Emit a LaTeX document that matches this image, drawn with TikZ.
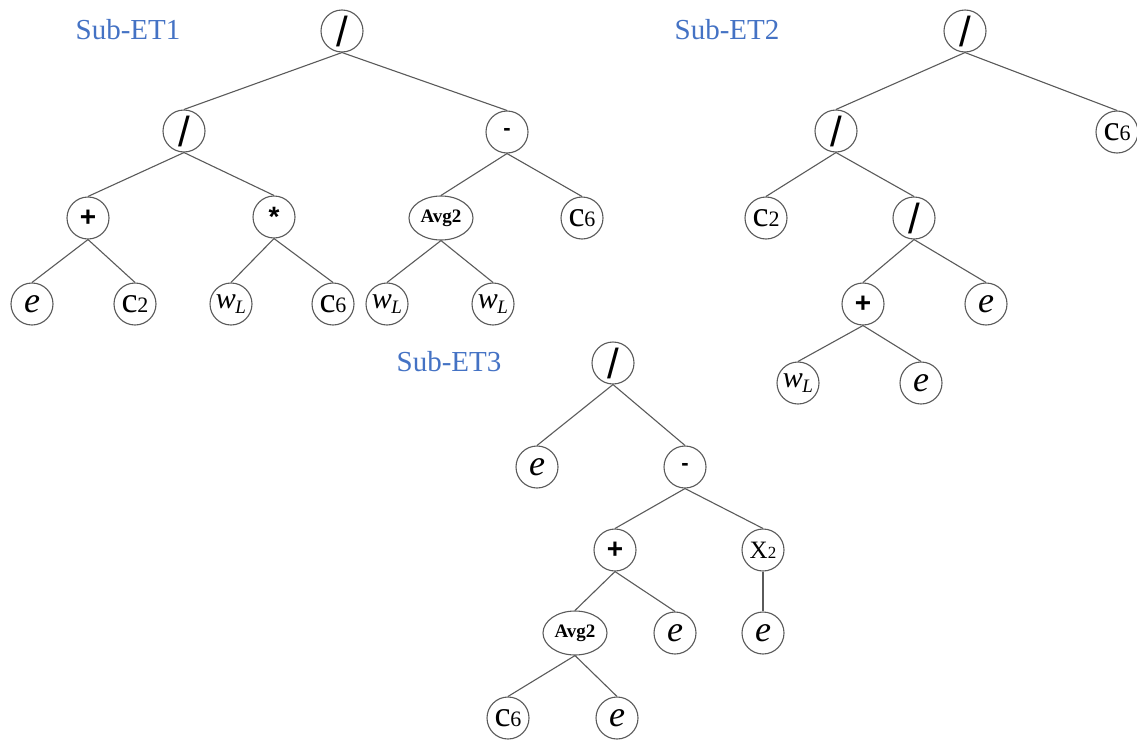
\documentclass[tikz,border=0pt]{standalone}
\usepackage{fontspec}
\setmainfont{Liberation Serif}
\newfontfamily\opfont{Liberation Sans}
\usetikzlibrary{shapes.geometric}
\definecolor{titleblue}{RGB}{68,114,196}
\definecolor{linegray}{RGB}{90,90,90}
% node labels
\newcommand\opsym[2]{{\opfont\bfseries\fontsize{#2}{#2}\selectfont #1}}
\newcommand\divop{{\opfont\fontsize{42}{42}\selectfont\raisebox{-1pt}{/}}}
\newcommand\cst[2]{{\fontsize{36}{36}\selectfont #1}{\fontsize{22}{22}\selectfont #2}}
\newcommand\evar{{\fontsize{36}{36}\selectfont\itshape e}}
\newcommand\wvar{{\fontsize{30}{30}\selectfont\itshape w}\kern-0.5pt\lower5pt\hbox{\fontsize{19}{19}\selectfont\itshape L}}
\newcommand\avgop{{\fontsize{19}{19}\selectfont\bfseries Avg2}}
\begin{document}
\begin{tikzpicture}[x=1pt,y=-1pt,
  tn/.style={circle,draw=linegray,line width=1.1pt,minimum size=42pt,inner sep=0pt,fill=white},
  en/.style={ellipse,draw=linegray,line width=1.1pt,minimum width=64pt,minimum height=44pt,inner sep=0pt,fill=white},
  edge/.style={draw=linegray,line width=1.1pt},
  ttl/.style={text=titleblue,font=\fontsize{29}{29}\selectfont,inner sep=0pt}]
\useasboundingbox (0,0) rectangle (1137,739);

% titles
\node[ttl] (t1) at (128,30) {Sub-ET1};
\node[ttl] (t2) at (727,30) {Sub-ET2};
\node[ttl] (t3) at (449,362) {Sub-ET3};

% Sub-ET1
\node[tn] (r1) at (342,31) {\divop};
\node[tn] (a1) at (184,131) {\divop};
\node[tn] (b1) at (507,132) {\opsym{-}{22}};
\node[tn] (c1) at (88,218) {\opsym{+}{28}};
\node[tn] (d1) at (274,217) {\opsym{*}{28}};
\node[en] (g1) at (441,218) {\avgop};
\node[tn] (h1) at (582,218) {\cst{c}{6}};
\node[tn] (l1) at (32,304) {\evar};
\node[tn] (l2) at (135,304) {\cst{c}{2}};
\node[tn] (l3) at (231,304) {\wvar};
\node[tn] (l4) at (333,304) {\cst{c}{6}};
\node[tn] (l5) at (387,304) {\wvar};
\node[tn] (l6) at (493,304) {\wvar};
\foreach \p/\c in {r1/a1,r1/b1,a1/c1,a1/d1,b1/g1,b1/h1,c1/l1,c1/l2,d1/l3,d1/l4,g1/l5,g1/l6}
  \draw[edge] (\p.south) -- (\c.north);

% Sub-ET2
\node[tn] (r2) at (965,31) {\divop};
\node[tn] (a2) at (836,131) {\divop};
\node[tn] (k2) at (1117,132) {\cst{c}{6}};
\node[tn] (c2) at (766,218) {\cst{c}{2}};
\node[tn] (b2) at (914,218) {\divop};
\node[tn] (p2) at (863,304) {\opsym{+}{28}};
\node[tn] (e2) at (986,304) {\evar};
\node[tn] (w2) at (798,383) {\wvar};
\node[tn] (f2) at (921,383) {\evar};
\foreach \p/\c in {r2/a2,r2/k2,a2/c2,a2/b2,b2/p2,b2/e2,p2/w2,p2/f2}
  \draw[edge] (\p.south) -- (\c.north);

% Sub-ET3
\node[tn] (r3) at (613,363) {\divop};
\node[tn] (e3) at (537,467) {\evar};
\node[tn] (m3) at (685,467) {\opsym{-}{22}};
\node[tn] (p3) at (615,550) {\opsym{+}{28}};
\node[tn] (x3) at (763,550) {{\fontsize{25}{25}\selectfont X}{\fontsize{17}{17}\selectfont 2}};
\node[en] (g3) at (575,633) {\avgop};
\node[tn] (f3) at (675,633) {\evar};
\node[tn] (h3) at (763,633) {\evar};
\node[tn] (k3) at (508,718) {\cst{c}{6}};
\node[tn] (q3) at (617,718) {\evar};
\foreach \p/\c in {r3/e3,r3/m3,m3/p3,m3/x3,p3/g3,p3/f3,x3/h3,g3/k3,g3/q3}
  \draw[edge] (\p.south) -- (\c.north);
\end{tikzpicture}
\end{document}
